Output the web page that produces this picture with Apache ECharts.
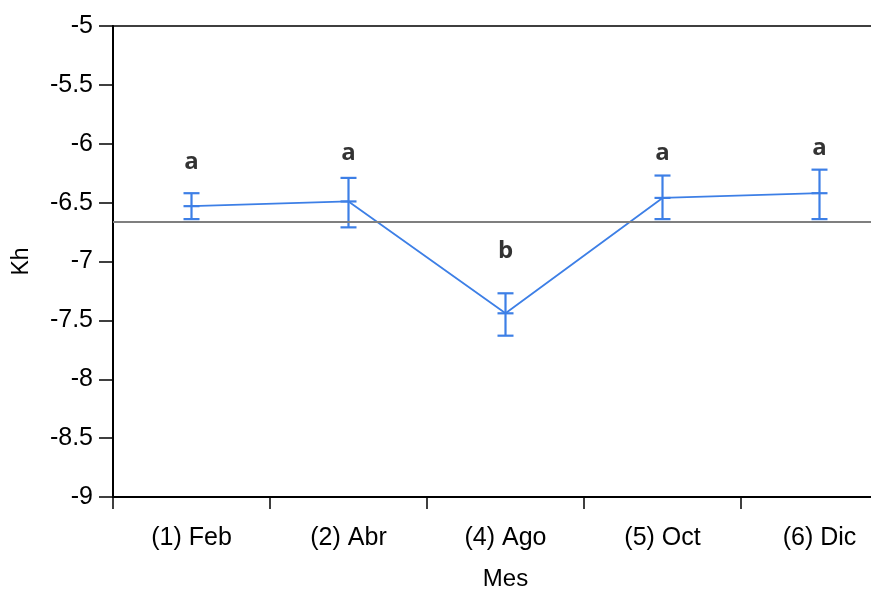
<!DOCTYPE html>
<html>
<head>
<meta charset="utf-8">
<script src="https://cdn.jsdelivr.net/npm/echarts@6/dist/echarts.min.js"></script>
<style>
	html, body { margin: 0; padding: 0; background: #fff; overflow: hidden; }
	#chart { width: 871px; height: 593px; }
</style>
</head>
<body>
<div id="chart"></div>
<script>
// datos
var meses = ['(1) Feb', '(2) Abr', '(4) Ago', '(5) Oct', '(6) Dic'];
var medias = [-6.53, -6.49, -7.44, -6.46, -6.42];
var superior = [-6.42, -6.29, -7.27, -6.27, -6.22];
var inferior = [-6.64, -6.71, -7.63, -6.64, -6.64];
var letras = ['a', 'a', 'b', 'a', 'a'];
var letrasY = [-6.16, -6.08, -6.91, -6.08, -6.04];
var lineaRef = -6.66;

var AZUL = '#3d7fe6';

var chart = echarts.init(document.getElementById('chart'));

var barras = [];
for (var i = 0; i < meses.length; i++) {
	barras.push([i, inferior[i], superior[i], medias[i]]);
}
var etiquetas = [];
for (var i = 0; i < meses.length; i++) {
	etiquetas.push({value: [i, letrasY[i]], name: letras[i]});
}

var option = {
	animation: false,
	grid: {
		left: 113, top: 26, width: 785, height: 471,
		outerBoundsMode: 'none',
		containLabel: false,
		show: true, borderColor: '#000', borderWidth: 1.5, backgroundColor: 'transparent'
	},
	xAxis: {
		type: 'category',
		data: meses,
		boundaryGap: true,
		name: 'Mes',
		nameLocation: 'middle',
		nameGap: 70,
		nameTextStyle: {fontFamily: 'Liberation Sans', fontSize: 24, color: '#000'},
		axisLine: {lineStyle: {color: '#000', width: 2}},
		axisTick: {show: true, length: 12, lineStyle: {color: '#000', width: 1.5}},
		axisLabel: {fontFamily: 'Liberation Sans', fontSize: 25, color: '#000', margin: 29},
		splitLine: {show: false}
	},
	yAxis: {
		type: 'value',
		min: -9, max: -5, interval: 0.5,
		name: 'Kh',
		nameLocation: 'middle',
		nameRotate: 90,
		nameGap: 80,
		nameTextStyle: {fontFamily: 'Liberation Sans', fontSize: 23, color: '#000'},
		axisLine: {show: true, lineStyle: {color: '#000', width: 2}},
		axisTick: {show: true, length: 14, lineStyle: {color: '#000', width: 1.5}},
		axisLabel: {fontFamily: 'Liberation Sans', fontSize: 25, color: '#000', margin: 20},
		splitLine: {show: false}
	},
	series: [
		{
			type: 'line',
			data: medias,
			symbol: 'none',
			lineStyle: {color: AZUL, width: 1.8},
			markLine: {
				silent: true,
				symbol: 'none',
				label: {show: false},
				lineStyle: {color: '#7f7f7f', width: 2, type: 'solid'},
				data: [{yAxis: lineaRef}]
			},
			z: 3
		},
		{
			type: 'custom',
			data: barras,
			renderItem: function(params, api){
				var x = api.value(0);
				var lo = api.coord([x, api.value(1)]);
				var hi = api.coord([x, api.value(2)]);
				var me = api.coord([x, api.value(3)]);
				var half = 8;
				var estilo = {stroke: AZUL, lineWidth: 2.2};
				return {
					type: 'group',
					children: [
						{type: 'line', shape: {x1: lo[0], y1: lo[1], x2: hi[0], y2: hi[1]}, style: estilo},
						{type: 'line', shape: {x1: lo[0] - half, y1: lo[1], x2: lo[0] + half, y2: lo[1]}, style: estilo},
						{type: 'line', shape: {x1: hi[0] - half, y1: hi[1], x2: hi[0] + half, y2: hi[1]}, style: estilo},
						{type: 'line', shape: {x1: me[0] - half, y1: me[1], x2: me[0] + half, y2: me[1]}, style: estilo}
					]
				};
			},
			z: 4
		},
		{
			type: 'scatter',
			data: etiquetas,
			symbolSize: 0,
			label: {
				show: true,
				position: 'inside',
				formatter: function(p){ return p.name; },
				fontFamily: 'Open Sans',
				fontWeight: 'bold',
				fontSize: 24,
				color: '#000'
			},
			z: 5
		}
	]
};

chart.setOption(option);
</script>
</body>
</html>
